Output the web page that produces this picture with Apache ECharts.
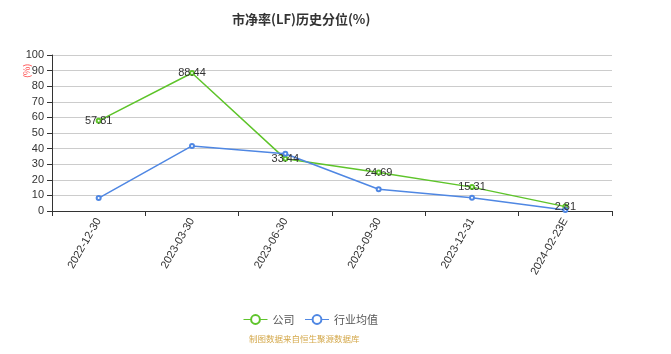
<!DOCTYPE html>
<html><head><meta charset="utf-8">
<script src="https://cdn.jsdelivr.net/npm/echarts@6/dist/echarts.min.js"></script>
<style>html,body{margin:0;padding:0;background:#fff}#c{width:671px;height:354px}</style>
</head><body><div id="c"></div>
<script>
var categories = ['2022-12-30','2023-03-30','2023-06-30','2023-09-30','2023-12-31','2024-02-23E'];
var companyValues = [57.81, 88.44, 33.44, 24.69, 15.31, 2.81];
var industryValues = [8.3, 41.7, 36.7, 13.9, 8.5, 0.6];
var yTicks = [0,10,20,30,40,50,60,70,80,90,100];

var chart = echarts.init(document.getElementById('c'));
chart.setOption({
  animation: false,
  title: {text: '市净率(LF)历史分位(%)', left: 227, top: 8,
    textStyle: {fontSize: 13, fontWeight: 'bold', color: '#333', fontFamily: 'Noto Sans CJK SC'}},
  graphic: [{type: 'text', left: 249, top: 335,
    style: {text: '制图数据来自恒生聚源数据库', fill: '#d4a84a', font: '8.5px "Noto Sans CJK SC"'}},
    {type: 'text', x: 22, y: 78, rotation: Math.PI/2,
    style: {text: '(%)', fill: '#ff4d4f', font: '9px "Noto Sans CJK SC"'}}],
  legend: {top: 309, left: 238, itemWidth: 24, itemHeight: 11, itemGap: 10,
    textStyle: {fontSize: 11, color: '#555', fontFamily: 'Noto Sans CJK SC'},
    itemStyle: {borderWidth: 1},
    lineStyle: {width: 1},
    data: ['公司','行业均值']},
  grid: {left: 52, right: 59, top: 55, bottom: 143},
  xAxis: {type: 'category', data: categories, boundaryGap: true,
    axisLine: {lineStyle: {color: '#333'}},
    axisTick: {show: true, lineStyle: {color: '#333'}},
    axisLabel: {rotate: 60, fontSize: 11, color: '#333', margin: 8}},
  yAxis: {type: 'value', min: yTicks[0], max: yTicks[yTicks.length-1], interval: 10,
    axisLine: {show: true, lineStyle: {color: '#333'}},
    axisTick: {show: true, lineStyle: {color: '#333'}},
    axisLabel: {fontSize: 11, color: '#333'},
    splitLine: {lineStyle: {color: '#ccc'}}},
  series: [
    {name: '公司', type: 'line', data: companyValues, symbol: 'emptyCircle', symbolSize: 4,
     itemStyle: {color: '#5ec42a'}, lineStyle: {width: 1.5, color: '#5ec42a'},
     label: {show: true, position: 'inside', fontSize: 11, color: '#333'}},
    {name: '行业均值', type: 'line', data: industryValues, symbol: 'emptyCircle', symbolSize: 4,
     itemStyle: {color: '#4f87e3'}, lineStyle: {width: 1.5, color: '#4f87e3'}}
  ]
});
</script></body></html>
